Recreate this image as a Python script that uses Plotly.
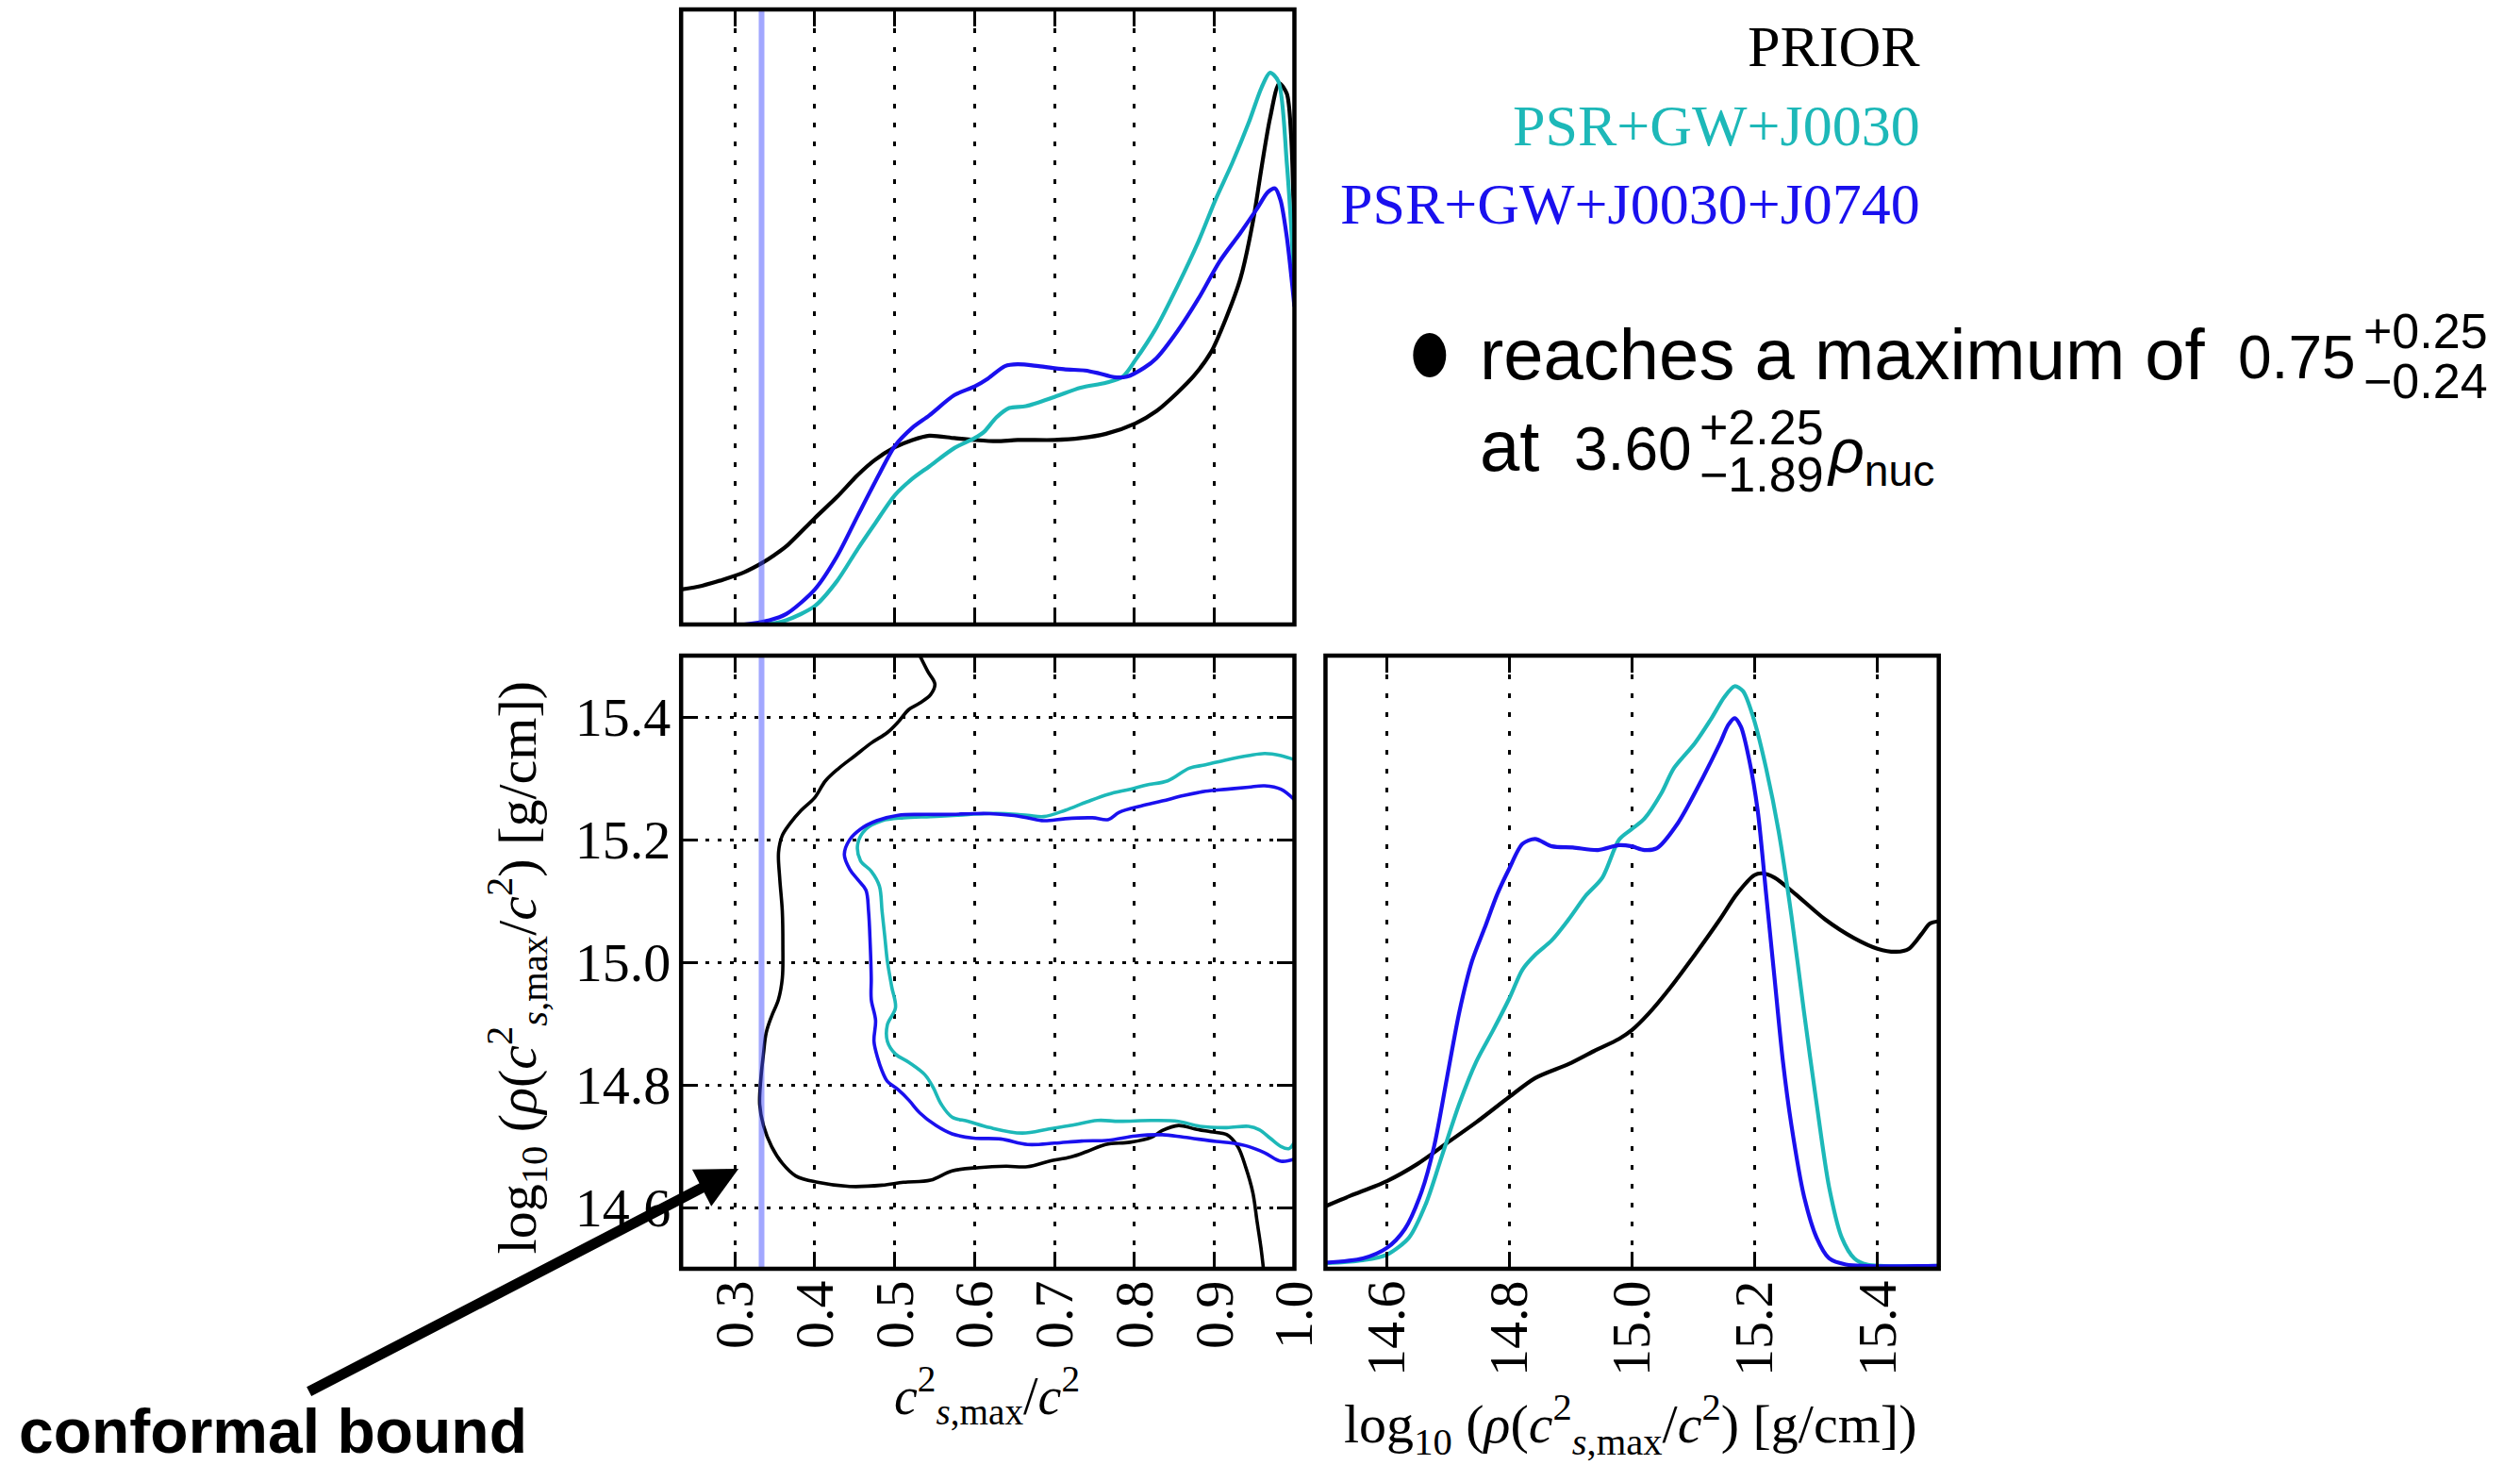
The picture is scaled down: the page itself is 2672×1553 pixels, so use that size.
import plotly.graph_objects as go

W, H = 2672, 1553

# ---------------- axis ranges and ticks ----------------
CS2_RANGE = [0.2327, 1.0]
RHO_RANGE = [14.5, 15.5]
PDF_RANGE = [0.0, 1.0]
CS2_TICKS = [0.3, 0.4, 0.5, 0.6, 0.7, 0.8, 0.9, 1.0]
CS2_TICKTEXT = ["0.3", "0.4", "0.5", "0.6", "0.7", "0.8", "0.9", "1.0"]
RHO_TICKS = [14.6, 14.8, 15.0, 15.2, 15.4]
RHO_TICKTEXT = ["14.6", "14.8", "15.0", "15.2", "15.4"]
CONFORMAL_BOUND = 1.0 / 3.0

SERIES = ["PRIOR", "PSR+GW+J0030", "PSR+GW+J0030+J0740"]
COLORS = ["#000000", "#1DB8B8", "#1A10EE"]

# ---------------- top panel: marginal of c_s,max^2/c^2 ----------------
prior_cs2_x = [0.2326, 0.2589, 0.2853, 0.3116, 0.3353, 0.3484, 0.3642, 0.4, 0.4274, 0.4537, 0.4747,
               0.5, 0.5221, 0.5432, 0.5747, 0.6, 0.6274, 0.6537, 0.7, 0.7326, 0.7642,
               0.8011, 0.8274, 0.8537, 0.8747, 0.8958, 0.9142, 0.9326, 0.9484, 0.9589,
               0.9695, 0.9811, 0.9905, 0.9958, 1.0]
prior_cs2_pdf = [0.057, 0.063, 0.073, 0.085, 0.101, 0.112, 0.127, 0.173, 0.207, 0.243, 0.267,
                 0.288, 0.300, 0.307, 0.303, 0.300, 0.298, 0.300, 0.300, 0.303, 0.310,
                 0.327, 0.347, 0.377, 0.405, 0.443, 0.497, 0.563, 0.657, 0.743,
                 0.823, 0.880, 0.863, 0.797, 0.620]

j0030_cs2_x = [0.30, 0.3353, 0.3642, 0.4, 0.4274, 0.4537, 0.4747, 0.5, 0.5221, 0.5432, 0.5747,
               0.6, 0.6116, 0.6274, 0.6432, 0.6642, 0.7, 0.7326, 0.7642, 0.7853, 0.8011,
               0.8274, 0.8537, 0.88, 0.9011, 0.9221, 0.9432, 0.9589, 0.9695, 0.98,
               0.9905, 0.9958, 1.0]
j0030_cs2_pdf = [0.0, 0.0, 0.007, 0.030, 0.070, 0.123, 0.163, 0.210, 0.237, 0.257, 0.287,
                 0.303, 0.313, 0.337, 0.352, 0.355, 0.370, 0.385, 0.393, 0.403, 0.430,
                 0.483, 0.550, 0.623, 0.690, 0.750, 0.817, 0.873, 0.897, 0.883,
                 0.750, 0.650, 0.550]

j0740_cs2_x = [0.29, 0.3116, 0.3432, 0.3642, 0.4, 0.4274, 0.4537, 0.48, 0.5, 0.5221, 0.5432,
               0.5747, 0.6, 0.6168, 0.6379, 0.6537, 0.68, 0.7116, 0.7379, 0.7537, 0.7747,
               0.7905, 0.8116, 0.8274, 0.8537, 0.88, 0.9063, 0.9326, 0.9537, 0.9668,
               0.9758, 0.9826, 0.9905, 1.0]
j0740_cs2_pdf = [0.0, 0.0, 0.007, 0.017, 0.057, 0.110, 0.177, 0.243, 0.290, 0.320, 0.340,
                 0.373, 0.387, 0.400, 0.420, 0.423, 0.420, 0.415, 0.413, 0.409, 0.402,
                 0.403, 0.417, 0.433, 0.477, 0.530, 0.590, 0.637, 0.677, 0.703,
                 0.709, 0.690, 0.630, 0.517]

# ---------------- bottom-right panel: marginal of log10 rho ----------------
prior_rho_x = [14.5, 14.5404, 14.6, 14.65, 14.698, 14.7459, 14.7993, 14.8418, 14.8966, 14.9377,
               14.9788, 14.9993, 15.0267, 15.061, 15.1021, 15.1432, 15.1705, 15.1993, 15.2116,
               15.2322, 15.2664, 15.3144, 15.3623, 15.4, 15.4308, 15.4514, 15.4719, 15.4856, 15.5]
prior_rho_pdf = [0.102, 0.119, 0.143, 0.171, 0.205, 0.239, 0.280, 0.311, 0.334, 0.355,
                 0.375, 0.389, 0.416, 0.457, 0.512, 0.570, 0.611, 0.642, 0.645,
                 0.638, 0.611, 0.570, 0.539, 0.522, 0.517, 0.522, 0.546, 0.563, 0.567]

j0030_rho_x = [14.5, 14.561, 14.6, 14.6363, 14.6637, 14.6911, 14.7185, 14.7459, 14.7733, 14.7993,
               14.8212, 14.8418, 14.8692, 14.8966, 14.924, 14.9514, 14.9788, 14.9993, 15.0199,
               15.0473, 15.0678, 15.1021, 15.1295, 15.15, 15.1671, 15.1808, 15.1979, 15.2185,
               15.239, 15.2596, 15.2801, 15.3007, 15.3212, 15.3418, 15.3623, 15.3829, 15.5]
j0030_rho_pdf = [0.009, 0.014, 0.023, 0.051, 0.106, 0.188, 0.270, 0.338, 0.389, 0.440,
                 0.488, 0.512, 0.536, 0.570, 0.608, 0.638, 0.700, 0.717, 0.734,
                 0.775, 0.816, 0.857, 0.898, 0.932, 0.950, 0.942, 0.898, 0.816,
                 0.713, 0.577, 0.420, 0.270, 0.133, 0.051, 0.017, 0.007, 0.005]

j0740_rho_x = [14.5, 14.561, 14.6, 14.6295, 14.6568, 14.6774, 14.698, 14.7185, 14.739, 14.7596,
               14.7801, 14.7993, 14.8212, 14.8418, 14.8692, 14.9034, 14.9445, 14.9788, 14.9993,
               15.0199, 15.0404, 15.0747, 15.1158, 15.1432, 15.1568, 15.1671, 15.1774, 15.1911,
               15.2048, 15.2185, 15.2322, 15.2459, 15.2596, 15.2801, 15.3007, 15.3212, 15.3486, 15.5]
j0740_rho_pdf = [0.010, 0.017, 0.034, 0.065, 0.126, 0.201, 0.311, 0.420, 0.502, 0.556,
                 0.611, 0.652, 0.693, 0.701, 0.689, 0.687, 0.683, 0.691, 0.689,
                 0.683, 0.686, 0.727, 0.802, 0.857, 0.887, 0.898, 0.884, 0.829,
                 0.747, 0.611, 0.474, 0.338, 0.235, 0.119, 0.051, 0.017, 0.007, 0.005]

# ---------------- bottom-left panel: 2D credible contours ----------------
prior_contour_cs2 = [0.5313, 0.5414, 0.5502, 0.5448, 0.5313, 0.5178, 0.5043, 0.4908, 0.4706, 0.4504,
                     0.4301, 0.4133, 0.3998, 0.3829, 0.3695, 0.3593, 0.3546, 0.356, 0.3593, 0.36,
                     0.3593, 0.3545, 0.3459, 0.3391, 0.3357, 0.3324, 0.331, 0.3357, 0.3459, 0.3593,
                     0.3762, 0.4032, 0.4436, 0.4841, 0.5111, 0.5448, 0.5717, 0.6055, 0.6392, 0.6662,
                     0.6931, 0.7201, 0.7403, 0.7639, 0.7943, 0.8212, 0.8347, 0.855, 0.8752, 0.8954,
                     0.9156, 0.9291, 0.9392, 0.948, 0.9534, 0.9581, 0.9615]
prior_contour_rho = [15.5001, 15.474, 15.4535, 15.4363, 15.4226, 15.4123, 15.3918, 15.3746, 15.3575, 15.3369,
                     15.3164, 15.2958, 15.2684, 15.2478, 15.2272, 15.2067, 15.1793, 15.1381, 15.0833, 15.0284,
                     14.9736, 14.9393, 14.9119, 14.8845, 14.8502, 14.8091, 14.768, 14.7337, 14.6994, 14.672,
                     14.6514, 14.6411, 14.6343, 14.6363, 14.6411, 14.6446, 14.6597, 14.6651, 14.6672, 14.6665,
                     14.6754, 14.6823, 14.6912, 14.7028, 14.7063, 14.7145, 14.7255, 14.7337, 14.7282, 14.7234,
                     14.7186, 14.6994, 14.6651, 14.624, 14.576, 14.5349, 14.4972]

j0030_contour_cs2 = [1.0, 0.9831, 0.9629, 0.9426, 0.9156, 0.8887, 0.8684, 0.8415, 0.8145, 0.7943,
                     0.7673, 0.7403, 0.7133, 0.6864, 0.6662, 0.6392, 0.6122, 0.5785, 0.5448, 0.5111,
                     0.4841, 0.4639, 0.4537, 0.4571, 0.4706, 0.4807, 0.4841, 0.4875, 0.4908, 0.4962,
                     0.5009, 0.4908, 0.4908, 0.5009, 0.5178, 0.538, 0.5481, 0.5583, 0.5717, 0.592,
                     0.6189, 0.6594, 0.6931, 0.7201, 0.7538, 0.7808, 0.8212, 0.855, 0.8819, 0.9156,
                     0.9426, 0.9561, 0.9696, 0.9831, 0.9933, 1.0]
j0030_contour_rho = [15.3301, 15.3369, 15.3404, 15.3369, 15.3301, 15.3219, 15.3164, 15.2958, 15.289, 15.2821,
                     15.2739, 15.2615, 15.2478, 15.2375, 15.2396, 15.2423, 15.2423, 15.2396, 15.2375, 15.2355,
                     15.2307, 15.217, 15.193, 15.1656, 15.1484, 15.1244, 15.0833, 15.0422, 15.001, 14.9599,
                     14.9256, 14.8982, 14.8708, 14.8502, 14.8365, 14.816, 14.7954, 14.768, 14.7474, 14.7405,
                     14.7302, 14.7213, 14.7282, 14.7337, 14.7419, 14.7405, 14.7419, 14.7405, 14.7323, 14.7302,
                     14.7323, 14.7268, 14.7131, 14.6994, 14.696, 14.7063]

j0740_contour_cs2 = [1.0, 0.9831, 0.9629, 0.9426, 0.9156, 0.8887, 0.8617, 0.8347, 0.8078, 0.7808,
                     0.7673, 0.7471, 0.7133, 0.6864, 0.6662, 0.6459, 0.6189, 0.5987, 0.565, 0.5313,
                     0.5043, 0.4773, 0.4571, 0.4436, 0.4369, 0.4436, 0.4537, 0.4639, 0.4672, 0.4693,
                     0.4706, 0.4706, 0.476, 0.474, 0.4787, 0.4841, 0.4908, 0.5043, 0.5178, 0.5313,
                     0.5515, 0.5717, 0.5987, 0.6324, 0.6662, 0.6999, 0.7336, 0.7673, 0.801, 0.8347,
                     0.8617, 0.9022, 0.9224, 0.9426, 0.9629, 0.9831, 1.0]
j0740_contour_rho = [15.265, 15.2821, 15.2876, 15.2855, 15.2821, 15.2787, 15.2718, 15.2629, 15.2547, 15.2444,
                     15.2327, 15.2355, 15.2341, 15.2307, 15.2355, 15.2396, 15.2423, 15.2423, 15.241, 15.241,
                     15.2396, 15.2307, 15.217, 15.1998, 15.1758, 15.1518, 15.1347, 15.1176, 15.0833, 15.0284,
                     14.9736, 14.9393, 14.9051, 14.8708, 14.8434, 14.8228, 14.8057, 14.792, 14.7748, 14.7543,
                     14.7337, 14.72, 14.7131, 14.7117, 14.7028, 14.7049, 14.7083, 14.7097, 14.7166, 14.7186,
                     14.7145, 14.7076, 14.7049, 14.6994, 14.6891, 14.6754, 14.6788]

# ---------------- figure ----------------
H_SCALE = 1.011  # horizontal placement correction


def px_x(v):
    return v * H_SCALE / W


def px_y(v):
    return 1.0 - v / H


fig = go.Figure()

top_curves = [(prior_cs2_x, prior_cs2_pdf), (j0030_cs2_x, j0030_cs2_pdf), (j0740_cs2_x, j0740_cs2_pdf)]
rho_curves = [(prior_rho_x, prior_rho_pdf), (j0030_rho_x, j0030_rho_pdf), (j0740_rho_x, j0740_rho_pdf)]
contours = [(prior_contour_cs2, prior_contour_rho), (j0030_contour_cs2, j0030_contour_rho),
            (j0740_contour_cs2, j0740_contour_rho)]

for name, col, (xs, ys) in zip(SERIES, COLORS, top_curves):
    fig.add_trace(go.Scatter(x=xs, y=ys, mode="lines", name=name, showlegend=False,
                             line=dict(color=col, width=4.2, shape="spline", smoothing=0.8),
                             xaxis="x", yaxis="y"))
for name, col, (xs, ys) in zip(SERIES, COLORS, contours):
    fig.add_trace(go.Scatter(x=xs, y=ys, mode="lines", name=name, showlegend=False,
                             line=dict(color=col, width=3.6, shape="spline", smoothing=1.0),
                             xaxis="x2", yaxis="y2"))
for name, col, (xs, ys) in zip(SERIES, COLORS, rho_curves):
    fig.add_trace(go.Scatter(x=xs, y=ys, mode="lines", name=name, showlegend=False,
                             line=dict(color=col, width=4.2, shape="spline", smoothing=0.8),
                             xaxis="x3", yaxis="y3"))

X_LEFT = [px_x(723), px_x(1374)]
X_RIGHT = [px_x(1407), px_x(2058)]
Y_TOP = [px_y(662), px_y(10)]
Y_BOT = [px_y(1345), px_y(695)]

tickfont = dict(family="Liberation Serif", size=58, color="black")
VGRID = "5px,15px"
HGRID = "4px,9px"

common = dict(ticks="inside", ticklen=18, tickwidth=3, tickcolor="black", mirror="ticks",
              showline=False, zeroline=False, gridcolor="black", gridwidth=2.5, tickfont=tickfont)

fig.update_layout(
    width=W, height=H, margin=dict(l=0, r=0, t=0, b=0),
    paper_bgcolor="white", plot_bgcolor="white", showlegend=False,
    xaxis=dict(domain=X_LEFT, anchor="y", range=CS2_RANGE, tickvals=CS2_TICKS, ticktext=CS2_TICKTEXT,
               showticklabels=False, showgrid=True, griddash=VGRID, **common),
    yaxis=dict(domain=Y_TOP, anchor="x", range=PDF_RANGE, showticklabels=False, showgrid=False,
               ticks="", zeroline=False),
    xaxis2=dict(domain=X_LEFT, anchor="y2", range=CS2_RANGE, tickvals=CS2_TICKS, ticktext=CS2_TICKTEXT,
                tickangle=-90, showgrid=True, griddash=VGRID, ticklabelstandoff=0, **common),
    yaxis2=dict(domain=Y_BOT, anchor="x2", range=RHO_RANGE, tickvals=RHO_TICKS, ticktext=RHO_TICKTEXT,
                showgrid=True, griddash=HGRID, ticklabelstandoff=10, **common),
    xaxis3=dict(domain=X_RIGHT, anchor="y3", range=RHO_RANGE, tickvals=RHO_TICKS, ticktext=RHO_TICKTEXT,
                tickangle=-90, showgrid=True, griddash=VGRID, ticklabelstandoff=0, **common),
    yaxis3=dict(domain=Y_BOT, anchor="x3", range=PDF_RANGE, showticklabels=False, showgrid=False,
                ticks="", zeroline=False),
)

shapes = []
# conformal bound lines
for xa, ya in [("x", "y"), ("x2", "y2")]:
    shapes.append(dict(type="line", xref=xa, yref=ya + " domain", x0=CONFORMAL_BOUND, x1=CONFORMAL_BOUND,
                       y0=0, y1=1, line=dict(color="rgba(70,80,255,0.5)", width=6), layer="above"))
# frames
for xa, ya in [("x", "y"), ("x2", "y2"), ("x3", "y3")]:
    shapes.append(dict(type="rect", xref=xa + " domain", yref=ya + " domain", x0=0, x1=1, y0=0, y1=1,
                       line=dict(color="black", width=4.5), fillcolor="rgba(0,0,0,0)", layer="above"))
# bullet
shapes.append(dict(type="circle", xref="paper", yref="paper", x0=px_x(1500), x1=px_x(1535),
                   y0=px_y(400), y1=px_y(353), fillcolor="black", line=dict(color="black", width=0)))
fig.update_layout(shapes=shapes)

serif = "Liberation Serif"
sans = "Liberation Sans"
ann = []


def text(x, y, s, size, family, color="black", xanchor="left", angle=0):
    ann.append(dict(x=px_x(x), y=px_y(y), xref="paper", yref="paper", text=s, showarrow=False,
                    xanchor=xanchor, yanchor="middle", textangle=angle,
                    font=dict(family=family, size=size, color=color)))


# legend-like labels
for label, col, yy in zip(SERIES, ["#000000", "#1DB8B8", "#1A10EE"], [49, 133, 216]):
    text(2040, yy, label, 62, serif, col, xanchor="right")

# axis titles
cs2_title = "<i>c</i><sup>2</sup><sub><i>s</i>,max</sub>/<i>c</i><sup>2</sup>"
rho_title = ("log<sub>10</sub> (<i>ρ</i>(<i>c</i><sup>2</sup><sub><i>s</i>,max</sub>/<i>c</i><sup>2</sup>)"
             " [g/cm])")
text(1048, 1479, cs2_title, 56, serif, xanchor="center")
text(549, 1026, rho_title, 58, serif, xanchor="center", angle=-90)
text(1730, 1510, rho_title, 58, serif, xanchor="center")

# bullet text
text(1569, 376, "reaches a maximum of", 76, sans)
text(2503, 379, "0.75", 64, sans, xanchor="right")
text(2507, 351, "+0.25", 52, sans)
text(2507, 404, "−0.24", 52, sans)
text(1569, 473, "at", 76, sans)
text(1798, 476, "3.60", 64, sans, xanchor="right")
text(1802, 453, "+2.25", 52, sans)
text(1802, 503, "−1.89", 52, sans)
text(1937, 483, "<i>ρ</i><sub>nuc</sub>", 66, sans)

# conformal bound annotation
text(18, 1517, "<b>conformal bound</b>", 66, sans)
ann.append(dict(x=px_x(784), y=px_y(1239), xref="paper", yref="paper", text="", showarrow=True,
                ax=(332 - 784) * H_SCALE, ay=1476 - 1239, arrowhead=2, arrowsize=0.8, arrowwidth=11,
                arrowcolor="black", standoff=0))

fig.update_layout(annotations=ann)
fig.write_html("out.html")
